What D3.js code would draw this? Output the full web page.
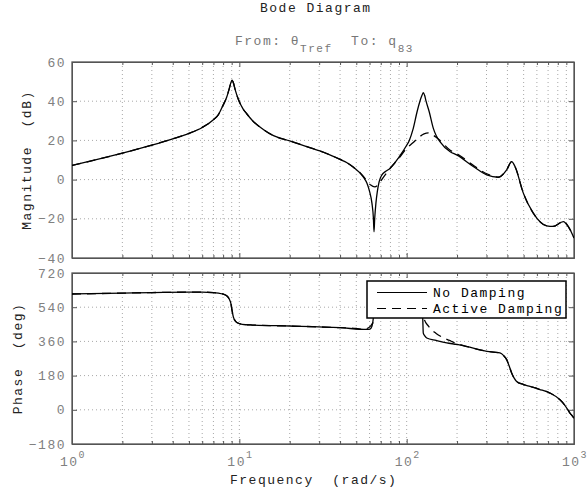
<!DOCTYPE html>
<html>
<head>
<meta charset="utf-8">
<script src="https://cdn.jsdelivr.net/npm/d3@7"></script>
<style>
  body { margin: 0; background: #fff; }
  text { font-family: "Liberation Mono", "DejaVu Sans Mono", monospace; white-space: pre; }
</style>
</head>
<body>
<svg id="chart"></svg>
<script>
// values (frequency in rad/s)
var freqMagNoDamp = [1,1.5,2,3,4,5,6,7,7.5,8,8.4,8.7,8.9,9.05,9.2,9.45,9.86,10.5,11.07,12,13.9,16,20,25,30.3,35,40,44,48,55,58,60,62,63.3,63.8,64.4,65.5,66.8,68.5,71,75,79.5,90,100,103.7,109.4,115.3,120,123.5,125.8,128,130.6,136.5,144.5,150,158,182,199,250,301,353,396,424,444,498,571,687,752,863,925,991,1000];
var magNoDamp = [7.2,10.8,13.5,17.6,20.8,23.6,26.6,30.5,33.2,38,42,46.3,49.4,50.7,49.5,45.8,41,36.2,33.6,30,25.6,22.4,19.7,17,14.6,12.5,10.3,8.6,6.3,1.4,-2,-6,-12,-20,-26.6,-20,-12,-6,-1,2.3,4.2,5.7,11.5,17.5,20,26,34.5,40,43,44.4,43,40,34.5,26,22.5,19.4,14.2,12.6,6.7,2.4,1.2,5,9.2,6.7,-6.9,-17.1,-23.6,-23.9,-21.4,-24,-29,-29.8];

var freqMagActive = [1,1.5,2,3,4,5,6,7,7.5,8,8.4,8.7,8.9,9.05,9.2,9.45,9.86,10.5,11.07,12,13.9,16,20,25,30.3,35,40,44,48,55,58,61,64.5,68,72,76,79.5,90,100,109,118,127,135,142,150,158,182,199,250,301,353,396,424,444,498,571,687,752,863,925,991,1000];
var magActive = [7.2,10.8,13.5,17.6,20.8,23.6,26.6,30.5,33.2,38,42,46.3,49.4,50.7,49.5,45.8,41,36.2,33.6,30,25.6,22.4,19.7,17,14.6,12.5,10.3,8.6,6.4,1.8,-0.8,-2.8,-3.7,-2.3,0.8,3.5,5.7,11,16,18.8,21.5,23.3,23.8,23,21.6,20,15,13.3,7.3,3,1.3,5,9.2,6.7,-6.9,-17.1,-23.6,-23.9,-21.4,-24,-29,-29.8];

var freqPhaseNoDamp = [1,2,3,5,6,7,7.5,8,8.4,8.7,8.9,9.05,9.2,9.45,9.72,10.4,12,20,40,57.6,60.3,62,63.2,63.8,64.5,65.5,70,80,100,115,121,123.5,124.7,125.7,128,131.8,150,173.5,200,230,274,330,361,380,396,410,424,440,454,500,546,620,719,825,880,946,982,1000];
var phaseNoDamp = [609.5,614,617,619,619,617,614,609,600,583,560,522,490,468,458,450,446,441,432,423,425,440,483,540,590,600,603,603,602,600,590,540,486,404,390,378,365,352,344,333,316,303,299,285,264,230,194,165,149,133,123,108,88,53,25,-17,-35,-45];

var freqPhaseActive = [1,2,3,5,6,7,7.5,8,8.4,8.7,8.9,9.05,9.2,9.45,9.72,10.4,12,20,40,50,55,58,61,64.5,68,72,80,100,112,120,124,127,135,150,163,180,200,230,274,330,361,380,396,410,424,440,454,500,546,620,719,825,880,946,982,1000];
var phaseActive = [609.5,614,617,619,619,617,614,609,600,583,560,522,490,468,458,450,446,441,432,428,424,428,442,475,520,560,590,598,590,570,530,480,440,402,382,365,348,333,316,303,299,285,264,230,194,165,149,133,123,108,88,53,25,-17,-35,-45];

var magTicks = [-40,-20,0,20,40,60];
var phaseTicks = [-180,0,180,360,540,720];
var decadeTicks = [1,10,100,1000];
var seriesNames = ["No Damping", "Active Damping"];

var W = 587, H = 496;
var left = 72, right = 574;
var magTop = 62, magBottom = 258, phTop = 273, phBottom = 444;

var svg = d3.select("#chart").attr("width", W).attr("height", H);

var x = d3.scaleLog().domain([1, 1000]).range([left, right]);
var yMag = d3.scaleLinear().domain([-40, 60]).range([magBottom, magTop]);
var yPh = d3.scaleLinear().domain([-180, 720]).range([phBottom, phTop]);

var minorTicks = x.ticks().filter(function (d) { return decadeTicks.indexOf(d) < 0; });

function zip(a, b) {
    return a.map(function (f, i) { return [f, b[i]]; });
}

function drawPanel(name, yScale, yTicks, top, bottom) {
    var g = svg.append("g").attr("class", name);

    g.append("clipPath").attr("id", "clip-" + name)
        .append("rect")
        .attr("x", left).attr("y", top)
        .attr("width", right - left).attr("height", bottom - top);

    // dotted grid
    g.append("g").selectAll("line.v")
        .data(x.ticks().filter(function (d) { return d > 1 && d < 1000; }))
        .enter().append("line")
        .attr("x1", function (d) { return x(d); })
        .attr("x2", function (d) { return x(d); })
        .attr("y1", top).attr("y2", bottom)
        .attr("stroke", "#a8a8a8").attr("stroke-dasharray", "1,3");

    g.append("g").selectAll("line.h")
        .data(yTicks.slice(1, -1))
        .enter().append("line")
        .attr("x1", left).attr("x2", right)
        .attr("y1", function (d) { return yScale(d); })
        .attr("y2", function (d) { return yScale(d); })
        .attr("stroke", "#a8a8a8").attr("stroke-dasharray", "1,3");

    // axes with inward ticks
    var yAxisL = g.append("g")
        .attr("transform", "translate(" + left + ",0)")
        .call(d3.axisLeft(yScale).tickValues(yTicks).tickSizeInner(-5).tickSizeOuter(0).tickPadding(6));
    g.append("g")
        .attr("transform", "translate(" + right + ",0)")
        .call(d3.axisRight(yScale).tickValues(yTicks).tickSizeInner(-5).tickSizeOuter(0).tickFormat(""));
    [[bottom, d3.axisBottom], [top, d3.axisTop]].forEach(function (p) {
        g.append("g")
            .attr("transform", "translate(0," + p[0] + ")")
            .call(p[1](x).tickValues(decadeTicks).tickSizeInner(-5).tickSizeOuter(0).tickFormat(""));
        g.append("g")
            .attr("transform", "translate(0," + p[0] + ")")
            .call(p[1](x).tickValues(minorTicks).tickSizeInner(-3).tickSizeOuter(0).tickFormat(""));
    });

    g.selectAll(".domain, .tick line").attr("stroke", "#555");
    yAxisL.selectAll("text")
        .attr("fill", "#808080")
        .style("font-family", "Liberation Mono")
        .style("font-size", "13px")
        .style("letter-spacing", "1.5px");

    g.append("rect")
        .attr("x", left).attr("y", top)
        .attr("width", right - left).attr("height", bottom - top)
        .attr("fill", "none").attr("stroke", "#555").attr("stroke-width", 1.3);

    return g;
}

var magG = drawPanel("mag", yMag, magTicks, magTop, magBottom);
var phG = drawPanel("phase", yPh, phaseTicks, phTop, phBottom);

var magLine = d3.line()
    .x(function (d) { return x(d[0]); })
    .y(function (d) { return yMag(d[1]); })
    .curve(d3.curveMonotoneX);
var phLine = d3.line()
    .x(function (d) { return x(d[0]); })
    .y(function (d) { return yPh(d[1]); })
    .curve(d3.curveMonotoneX);

magG.append("g").attr("clip-path", "url(#clip-mag)")
    .selectAll("path")
    .data([zip(freqMagActive, magActive), zip(freqMagNoDamp, magNoDamp)])
    .enter().append("path")
    .attr("d", magLine)
    .attr("fill", "none").attr("stroke", "#000").attr("stroke-width", 1.3)
    .attr("stroke-dasharray", function (d, i) { return i === 0 ? "9,6" : null; });

phG.append("g").attr("clip-path", "url(#clip-phase)")
    .selectAll("path")
    .data([zip(freqPhaseActive, phaseActive), zip(freqPhaseNoDamp, phaseNoDamp)])
    .enter().append("path")
    .attr("d", phLine)
    .attr("fill", "none").attr("stroke", "#000").attr("stroke-width", 1.3)
    .attr("stroke-dasharray", function (d, i) { return i === 0 ? "9,6" : null; });

// x tick labels 10^n
var xLab = svg.append("g").selectAll("text")
    .data(decadeTicks)
    .enter().append("text")
    .attr("x", function (d) { return x(d) - 12; })
    .attr("y", 466)
    .attr("fill", "#808080")
    .style("font-size", "13px")
    .style("letter-spacing", "1.5px");
xLab.append("tspan").text("10");
xLab.append("tspan")
    .attr("dy", -8)
    .style("font-size", "10px")
    .style("letter-spacing", "0px")
    .text(function (d) { return Math.round(Math.log10(d)); });

// titles and labels
function label(txt, xp, yp, color, anchor, rot) {
    var t = svg.append("text")
        .attr("x", xp).attr("y", yp)
        .attr("fill", color)
        .attr("text-anchor", anchor)
        .style("font-size", "13px")
        .style("letter-spacing", "1.5px")
        .text(txt);
    if (rot) t.attr("transform", "rotate(-90," + xp + "," + yp + ")");
    return t;
}

label("Bode Diagram", 260, 12, "#222", "start");
label("Frequency  (rad/s)", 230, 484, "#222", "start");
label("Magnitude  (dB)", 31, (magTop + magBottom) / 2, "#222", "middle", true);
label("Phase  (deg)", 22, (phTop + phBottom) / 2, "#222", "middle", true);

var sub = svg.append("text")
    .attr("x", 235).attr("y", 45)
    .attr("fill", "#777")
    .style("font-size", "13px")
    .style("letter-spacing", "1.5px");
sub.append("tspan").text("From: \u03b8");
sub.append("tspan").attr("dy", 7).style("font-size", "11px").text("Tref");
sub.append("tspan").attr("dy", -7).text("  To: q");
sub.append("tspan").attr("dy", 7).style("font-size", "11px").text("83");

// legend
var leg = svg.append("g").attr("transform", "translate(367,281)");
leg.append("rect")
    .attr("width", 199).attr("height", 37)
    .attr("fill", "#fff").attr("stroke", "#000").attr("stroke-width", 1.5);
var legRows = leg.selectAll("g.row")
    .data(seriesNames)
    .enter().append("g")
    .attr("transform", function (d, i) { return "translate(0," + (11.5 + i * 16) + ")"; });
legRows.append("line")
    .attr("x1", 10).attr("x2", 60)
    .attr("stroke", "#000").attr("stroke-width", 1.2)
    .attr("stroke-dasharray", function (d, i) { return i === 1 ? "9,6" : null; });
legRows.append("text")
    .attr("x", 66).attr("y", 4.5)
    .attr("fill", "#000")
    .style("font-size", "13px")
    .style("letter-spacing", "1.5px")
    .text(function (d) { return d; });
</script>
</body>
</html>
